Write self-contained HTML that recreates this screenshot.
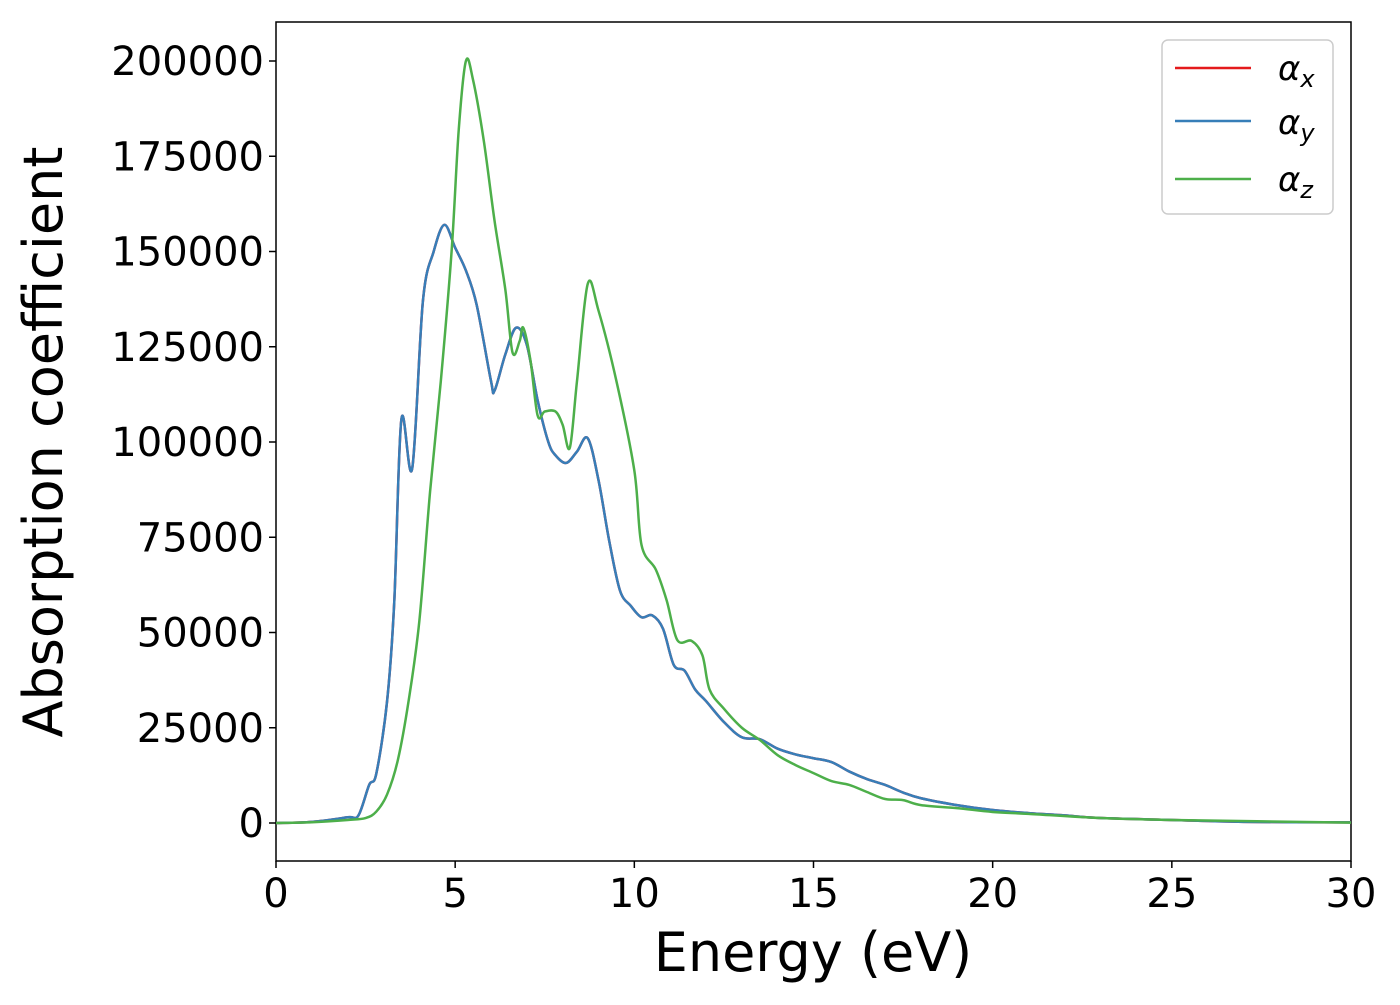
<!DOCTYPE html>
<html><head><meta charset="utf-8"><style>
body{margin:0;background:#fff}
svg text{font-family:"DejaVu Sans","Liberation Sans",sans-serif;fill:#000}
</style></head><body>
<svg id="chart" width="1400" height="1000" xmlns="http://www.w3.org/2000/svg">
<rect x="276" y="22" width="1075" height="839" fill="#fff" stroke="#000" stroke-width="1.5"/>
<g id="ticks"></g>
<g id="series"></g>
<text x="813" y="971" font-size="54" text-anchor="middle">Energy (eV)</text>
<text transform="translate(62,442) rotate(-90)" font-size="54" text-anchor="middle">Absorption coefficient</text>
<g>
<rect x="1162" y="40" width="171" height="174" rx="6" fill="#fff" stroke="#ccc" stroke-width="1.5"/>
<g><line x1="1175" y1="68" x2="1251" y2="68" stroke="#e41a1c" stroke-width="2.5"/><text x="1278" y="80" font-size="34" font-style="italic">α<tspan font-size="24" dy="7">x</tspan></text></g>
<g><line x1="1175" y1="121" x2="1251" y2="121" stroke="#377eb8" stroke-width="2.5"/><text x="1278" y="134" font-size="34" font-style="italic">α<tspan font-size="24" dy="7">y</tspan></text></g>
<g><line x1="1175" y1="179" x2="1251" y2="179" stroke="#4daf4a" stroke-width="2.5"/><text x="1278" y="191" font-size="34" font-style="italic">α<tspan font-size="24" dy="7">z</tspan></text></g>
</g>
</svg>
<script>
const xTicks=[0,5,10,15,20,25,30];
const yTicks=[0,25000,50000,75000,100000,125000,150000,175000,200000];
const energyXY=[0,1,2,2.3,2.6,2.8,3.1,3.3,3.5,3.8,4.1,4.4,4.7,5.0,5.3,5.6,6.0,6.1,6.4,6.7,7.0,7.3,7.6,7.8,8.1,8.4,8.7,9.0,9.3,9.6,9.9,10.2,10.5,10.8,11.1,11.4,11.7,12,12.5,13,13.5,14,14.5,15,15.5,16,16.5,17,17.5,18,19,20,21,22,23,25,27,30];
const alphaXY=[0,300,1500,2000,10000,13000,32000,58000,106000,93000,137000,150000,157000,151000,145000,136000,116000,113500,123000,130000,125500,111000,100000,96500,94500,97500,101000,90000,74000,61000,57000,54000,54500,51000,41500,40000,35000,32000,26500,22500,22000,19500,18000,17000,16000,13500,11500,10000,8000,6500,4700,3400,2600,2000,1300,800,300,150];
const energyZ=[0,1,2,2.5,2.8,3.1,3.4,3.7,4.0,4.3,4.6,4.9,5.1,5.3,5.5,5.8,6.1,6.4,6.6,6.8,6.9,7.1,7.3,7.5,7.8,8.0,8.2,8.4,8.7,9.0,9.5,10.0,10.2,10.6,10.9,11.2,11.6,11.9,12.1,12.5,13,13.5,14,14.5,15,15.5,16,16.5,17,17.5,18,19,20,21,23,25,30];
const alphaZ=[0,200,800,1300,3000,7500,16500,32000,53000,87000,116000,150000,182000,200000,195000,179000,158000,140000,123500,126500,130000,121500,107000,108000,108000,104500,98500,116000,141500,134500,116000,92500,73000,66500,58500,48000,47800,44000,35000,30000,25000,21800,17800,15200,13100,11000,10000,8100,6300,6000,4700,3900,2900,2400,1300,800,100];
const NS='http://www.w3.org/2000/svg';
const X=v=>276+v*1075/30, Y=v=>823-v*762/200000;
const tg=document.getElementById('ticks');
function mk(tag,attrs,parent){const e=document.createElementNS(NS,tag);for(const k in attrs)e.setAttribute(k,attrs[k]);parent.appendChild(e);return e;}
xTicks.forEach(t=>{
  const l=mk('line',{x1:X(t),x2:X(t),y1:861,y2:868,stroke:'#000','stroke-width':1.5},tg);
  
  
  const tx=mk('text',{x:X(t),y:907,'font-size':40,'text-anchor':'middle'},tg);tx.textContent=t;
  
  
});
yTicks.forEach(t=>{
  const l=mk('line',{x1:269,x2:276,y1:Y(t),y2:Y(t),stroke:'#000','stroke-width':1.5},tg);
  
  
  const tx=mk('text',{x:264,y:Y(t)+14,'font-size':40,'text-anchor':'end'},tg);tx.textContent=t;
  
  
});
function path(xs,ys){
  const p=xs.map((x,i)=>[X(x),Y(ys[i])]);
  let d='M'+p[0][0]+','+p[0][1];
  for(let i=0;i<p.length-1;i++){
    const p0=p[Math.max(0,i-1)],p1=p[i],p2=p[i+1],p3=p[Math.min(p.length-1,i+2)];
    const c1=[p1[0]+(p2[0]-p0[0])/6,p1[1]+(p2[1]-p0[1])/6];
    const c2=[p2[0]-(p3[0]-p1[0])/6,p2[1]-(p3[1]-p1[1])/6];
    d+=`C${c1[0]},${c1[1]} ${c2[0]},${c2[1]} ${p2[0]},${p2[1]}`;
  }
  return d;
}
const sg=document.getElementById('series');
const clip=mk('clipPath',{id:'cp'},sg);mk('rect',{x:276,y:22,width:1075,height:839},clip);
const sx=mk('path',{d:path(energyXY,alphaXY),fill:'none',stroke:'#e41a1c','stroke-width':2.5,'clip-path':'url(#cp)'},sg);


const sy=mk('path',{d:path(energyXY,alphaXY),fill:'none',stroke:'#377eb8','stroke-width':2.5,'clip-path':'url(#cp)'},sg);


const sz=mk('path',{d:path(energyZ,alphaZ),fill:'none',stroke:'#4daf4a','stroke-width':2.5,'clip-path':'url(#cp)'},sg);


</script>
</body></html>
